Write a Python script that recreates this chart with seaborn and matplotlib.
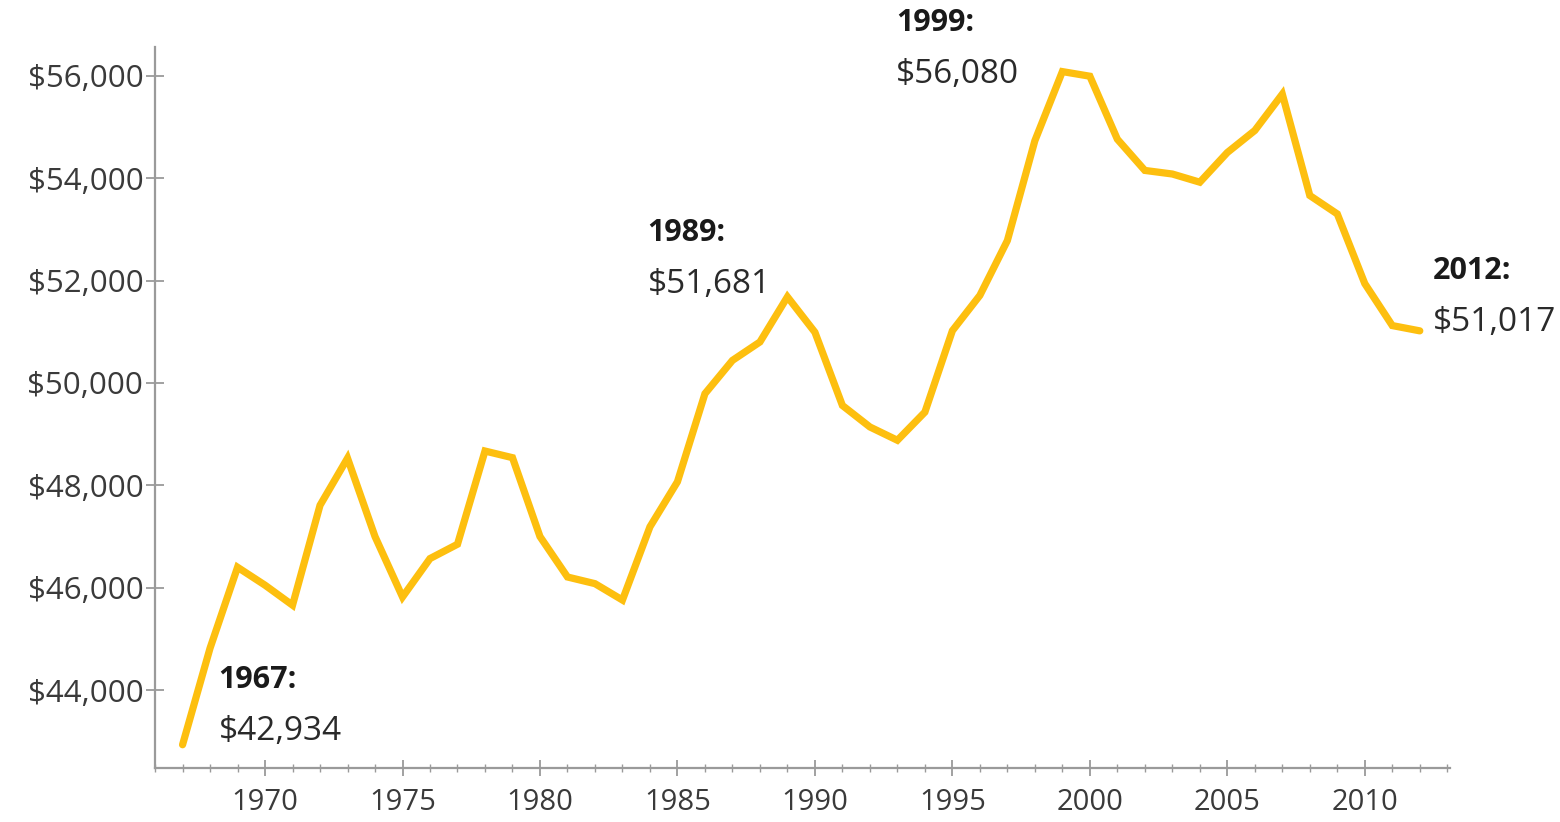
import matplotlib
matplotlib.use("Agg")
import numpy as np
import pandas as pd
import seaborn as sns
from matplotlib import pyplot as plt
from matplotlib.ticker import FuncFormatter, MultipleLocator

years = list(range(1967, 2013))
income = [
    42934, 44820, 46400, 46050, 45660, 47610, 48530, 47000, 45820, 46570,
    46850, 48670, 48540, 47000, 46210, 46080, 45760, 47190, 48070, 49790,
    50440, 50800, 51681, 50990, 49560, 49140, 48880, 49430, 51020, 51710,
    52780, 54730, 56080, 55990, 54760, 54150, 54080, 53920, 54500, 54930,
    55640, 53660, 53300, 51940, 51120, 51017,
]

# callouts: (year, bold label, value label, x offset px, y offset px of first line)
callout_years = [1967, 1989, 1999, 2012]
callout_dx = [36, -140, -166, 13]
callout_dy = [65, 64, 49, 60]

yticks = list(range(44000, 56001, 2000))
xticks = list(range(1970, 2011, 5))

df = pd.DataFrame({"year": years, "income": income})

sns.set_style("ticks")
plt.rcParams["font.family"] = ["Open Sans", "DejaVu Sans"]

fig = plt.figure(figsize=(15.6, 8.22), dpi=100)
ax = fig.add_axes([0.0994, 0.0657, 0.8301, 0.8771])

sns.lineplot(data=df, x="year", y="income", ax=ax, color="#FDBF0F",
             linewidth=5.2, solid_joinstyle="miter")

ax.set_xlim(1966, 2013.1)
ax.set_ylim(42480, 56560)
ax.set_yticks(yticks)
ax.set_xticks(xticks)
ax.xaxis.set_minor_locator(MultipleLocator(1))
ax.yaxis.set_major_formatter(FuncFormatter(lambda v, p: f"${v:,.0f}"))
ax.set_xlabel("")
ax.set_ylabel("")

for side in ["top", "right"]:
    ax.spines[side].set_visible(False)
for side in ["left", "bottom"]:
    ax.spines[side].set_color("#9a9a9a")
    ax.spines[side].set_linewidth(1.6)

ax.tick_params(axis="y", which="major", direction="inout", length=13, width=1.3,
               color="#9a9a9a", labelsize=22.5, labelcolor="#3a3a3a", pad=2)
ax.tick_params(axis="x", which="major", direction="inout", length=11, width=1.3,
               color="#9a9a9a", labelsize=21, labelcolor="#3a3a3a", pad=9)
ax.tick_params(axis="x", which="minor", direction="inout", length=6, width=1.0,
               color="#9a9a9a")

for yr, dx, dy in zip(callout_years, callout_dx, callout_dy):
    val = income[years.index(yr)]
    ax.annotate(f"{yr}:", xy=(yr, val), xytext=(dx, dy), textcoords="offset pixels",
                ha="left", va="center", fontsize=22, fontweight="bold", color="#1a1a1a")
    ax.annotate(f"${val:,}", xy=(yr, val), xytext=(dx, dy - 52), textcoords="offset pixels",
                ha="left", va="center", fontsize=24, color="#2a2a2a")

fig.savefig("out.png", dpi=100)
